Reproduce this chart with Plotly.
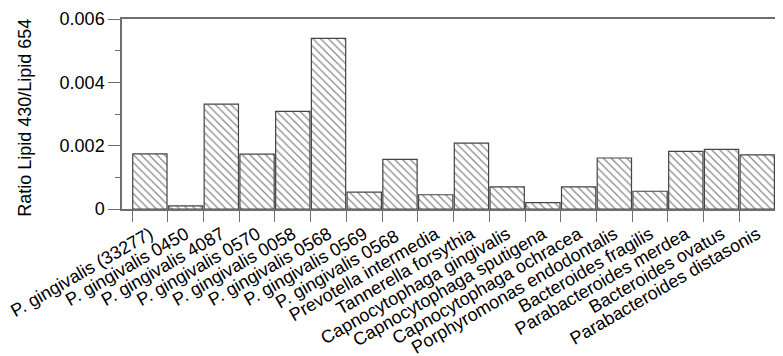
import plotly.graph_objects as go

categories = [
    "P. gingivalis (33277)", "P. gingivalis 0450", "P. gingivalis 4087",
    "P. gingivalis 0570", "P. gingivalis 0058", "P. gingivalis 0568",
    "P. gingivalis 0569", "P. gingivalis 0568 ", "Prevotella intermedia",
    "Tannerella forsythia", "Capnocytophaga gingivalis", "Capnocytophaga sputigena",
    "Capnocytophaga ochracea", "Porphyromonas endodontalis", "Bacteroides fragilis",
    "Parabacteroides merdea", "Bacteroides ovatus", "Parabacteroides distasonis",
]
ratio_values = [
    0.00174, 0.00010, 0.00331, 0.00173, 0.00308, 0.00539,
    0.00053, 0.00157, 0.00045, 0.00208, 0.00070, 0.00020,
    0.00070, 0.00161, 0.00056, 0.00182, 0.00188, 0.00171,
]
y_tick_vals = [0, 0.002, 0.004, 0.006]
y_tick_text = ["0", "0.002", "0.004", "0.006"]
y_title = "Ratio Lipid 430/Lipid 654"

FONT = "Liberation Sans, Arial, Helvetica, sans-serif"
AXC = "#6e6e6e"

fig = go.Figure(go.Bar(
    x=categories, y=ratio_values,
    marker=dict(
        color="white",
        line=dict(color="#444444", width=1.2),
        pattern=dict(shape="\\", fgcolor="#111111", bgcolor="white", size=5.5, solidity=0.22),
    ),
    hoverinfo="skip",
))

fig.update_layout(
    width=783, height=356,
    margin=dict(l=114, r=8, t=11, b=155, autoexpand=False),
    paper_bgcolor="white", plot_bgcolor="white",
    bargap=0.04, showlegend=False,
    font=dict(family=FONT, size=18, color="black"),
    xaxis=dict(
        range=[-0.78, 17.72], tickangle=-30, tickson="boundaries",
        ticks="outside", ticklen=11, tickcolor=AXC, tickwidth=1.3,
        showline=True, linecolor=AXC, linewidth=1.5, mirror=True,
        showgrid=False, zeroline=False, automargin=False,
        tickfont=dict(family=FONT, size=18, color="black"),
        ticklabeloverflow="allow", ticklabelstandoff=6,
    ),
    yaxis=dict(
        range=[0, 0.006], tickvals=y_tick_vals, ticktext=y_tick_text,
        ticks="outside", ticklen=12, tickcolor=AXC, tickwidth=1.3,
        minor=dict(ticks="outside", ticklen=5, dtick=0.001, tick0=0, tickcolor=AXC, tickwidth=1.3, showgrid=False),
        showline=True, linecolor=AXC, linewidth=1.5,
        showgrid=False, zeroline=False, automargin=False,
        tickfont=dict(family=FONT, size=18, color="black"),
        ticklabeloverflow="allow",
    ),
    annotations=[dict(
        text=y_title, textangle=-90, showarrow=False,
        xref="paper", yref="paper", x=(25 - 122) / 661, y=0.48,
        xanchor="center", yanchor="middle", font=dict(size=18),
    )],
)

fig.write_html("out.html")
